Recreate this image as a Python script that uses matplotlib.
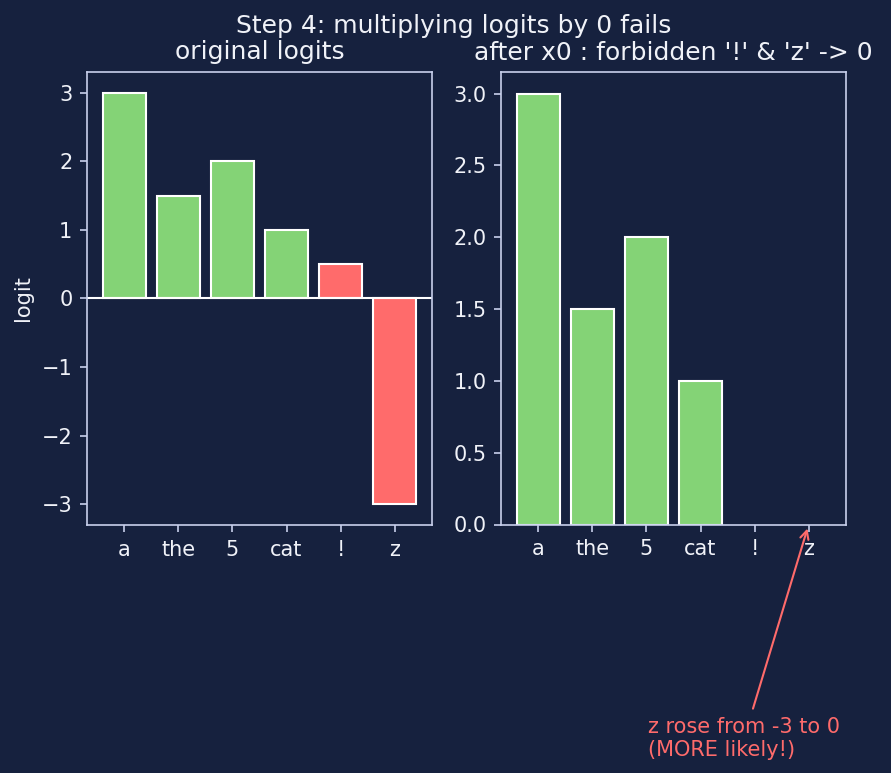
import matplotlib.pyplot as plt

# data
tokens = ['a', 'the', '5', 'cat', '!', 'z']
orig_logits = [3.0, 1.5, 2.0, 1.0, 0.5, -3.0]
forbidden = [False, False, False, False, True, True]
scaled_logits = [3.0, 1.5, 2.0, 1.0, 0.0, 0.0]

BG = '#16213e'
FG = '#f0f2f8'
SPINE = '#c8d0ec'
GREEN = '#84d376'
RED = '#ff6b6b'


def style_axes(ax):
    ax.set_facecolor(BG)
    for s in ax.spines.values():
        s.set_color(SPINE)
    ax.tick_params(colors=SPINE, labelcolor=FG, labelsize=10)


fig = plt.figure(figsize=(891 / 150, 773 / 150), dpi=150)
fig.patch.set_facecolor(BG)

ax1 = fig.add_axes([87 / 891, 1 - 525 / 773, 345 / 891, 453 / 773])
ax2 = fig.add_axes([501 / 891, 1 - 524.5 / 773, 345 / 891, 452.5 / 773])

# left: original logits
x = range(len(tokens))
colors1 = [RED if f else GREEN for f in forbidden]
ax1.bar(x, orig_logits, color=colors1, edgecolor='white', linewidth=1)
ax1.axhline(0, color='white', linewidth=1)
ax1.set_xticks(list(x))
ax1.set_xticklabels(tokens)
ax1.set_ylabel('logit', color=FG, fontsize=10)
ax1.set_title('original logits', color=FG, fontsize=12)
style_axes(ax1)

# right: logits multiplied by 0 mask (zeroed bars have no visible height)
edges2 = ['white' if v != 0 else 'none' for v in scaled_logits]
ax2.bar(x, scaled_logits, color=GREEN, edgecolor=edges2, linewidth=1)
ax2.set_xticks(list(x))
ax2.set_xticklabels(tokens)
ax2.set_title("after x0 : forbidden '!' & 'z' -> 0", color=FG, fontsize=12)
style_axes(ax2)

ax2.annotate('z rose from -3 to 0\n(MORE likely!)',
             xy=(5, 0), xycoords='data',
             xytext=(0.426, -0.425), textcoords='axes fraction',
             ha='left', va='top', color=RED, fontsize=10,
             arrowprops=dict(arrowstyle='->', color=RED, lw=1))

fig.text(454 / 891, 1 - 33 / 773, 'Step 4: multiplying logits by 0 fails',
         ha='center', va='baseline', color=FG, fontsize=12)

plt.savefig('out.png', dpi=150, facecolor=fig.get_facecolor())
plt.close()
